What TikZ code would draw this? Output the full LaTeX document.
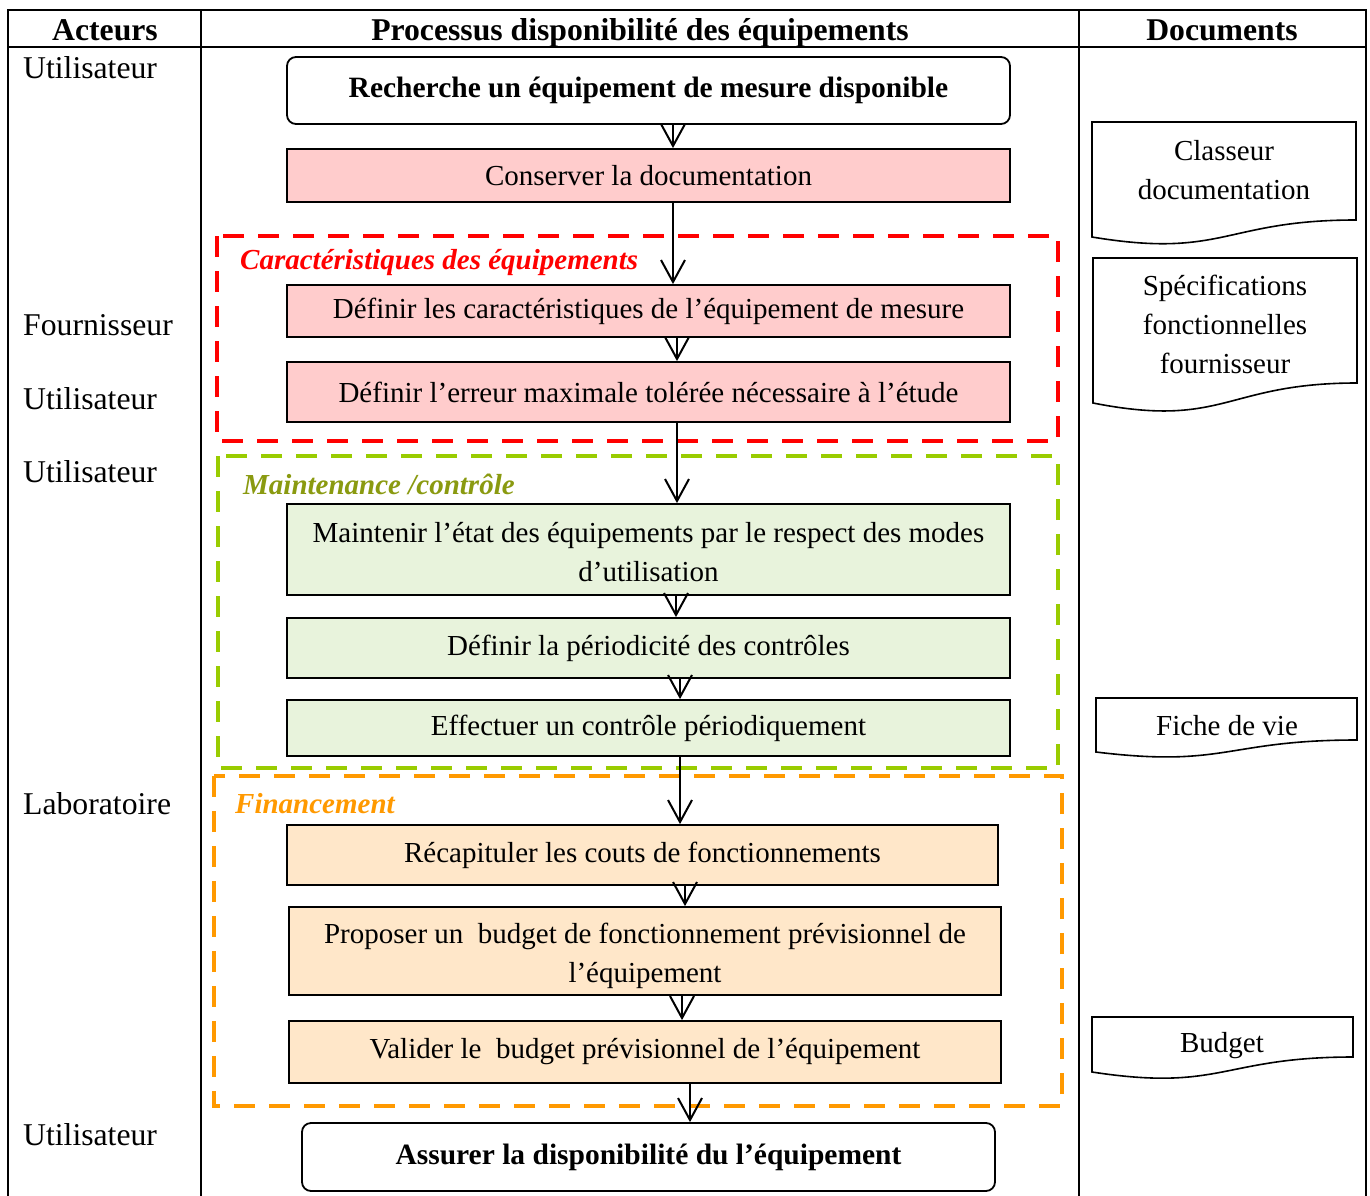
\documentclass[tikz,border=0pt]{standalone}
\usepackage{fontspec}
\setmainfont{Liberation Serif}
\usetikzlibrary{arrows.meta}
\definecolor{pinkfill}{HTML}{FFCCCC}
\definecolor{greenfill}{HTML}{E8F3DC}
\definecolor{orangefill}{HTML}{FFE7C9}
\definecolor{redframe}{HTML}{FF0000}
\definecolor{greenframe}{HTML}{99CC00}
\definecolor{greenlabel}{HTML}{8A9A10}
\definecolor{orangeframe}{HTML}{FF9900}
\tikzset{
  grid/.style={line width=2.4pt, line cap=rect},
  procbox/.style={draw=black, line width=1.8pt, inner sep=0pt, align=center,
                  minimum width=723pt},
  endbox/.style={procbox, rounded corners=9pt, font=\fontsize{29.5}{39}\selectfont\bfseries},
  pinkbox/.style={procbox, fill=pinkfill},
  greenbox/.style={procbox, fill=greenfill},
  orangebox/.style={procbox, fill=orangefill},
  frame/.style={line width=4pt, dash pattern=on 21pt off 14pt},
  grouplabel/.style={anchor=west, inner sep=0pt, font=\fontsize{29}{39}\selectfont\bfseries\itshape},
  actor/.style={anchor=west, inner sep=0pt, font=\fontsize{31.7}{39}\selectfont},
  header/.style={anchor=base, inner sep=0pt, font=\fontsize{31.7}{39}\selectfont\bfseries},
  docshape/.style={draw=black, line width=1.6pt, fill=white},
  doctext/.style={inner sep=0pt, align=center},
  flow/.style={draw=black, line width=2pt, -{Straight Barb[length=22pt,width=24pt]}}
}
\begin{document}
\begin{tikzpicture}[x=1pt, y=-1pt, font=\fontsize{29}{39}\selectfont]
\useasboundingbox (0,0) rectangle (1370,1196);

% table frame
\draw[grid] (8,1196) -- (8,10) -- (1366,10) -- (1366,1196);
\draw[grid] (8,47) -- (1366,47);
\draw[grid] (201,10) -- (201,1196);
\draw[grid] (1079,10) -- (1079,1196);

% column headers
\node[header] (hA) at (105,40.5) {Acteurs};
\node[header] (hP) at (640,40.5) {Processus disponibilité des équipements};
\node[header] (hD) at (1222,40.5) {Documents};

% actors
\node[actor] (a1) at (23,68) {Utilisateur};
\node[actor] (a2) at (23,325) {Fournisseur};
\node[actor] (a3) at (23,399) {Utilisateur};
\node[actor] (a4) at (23,472) {Utilisateur};
\node[actor] (a5) at (23,804) {Laboratoire};
\node[actor] (a6) at (23,1135) {Utilisateur};

% dashed group frames
\draw[frame, draw=redframe] (217,236) rectangle (1058,441);
\draw[frame, draw=greenframe] (218,456) rectangle (1058,768);
\draw[frame, draw=orangeframe] (214,776) rectangle (1062,1106);

\node[grouplabel, text=redframe] (g1) at (240,263) {Caractéristiques des équipements};
\node[grouplabel, text=greenlabel] (g2) at (243,484) {Maintenance /contrôle};
\node[grouplabel, text=orangeframe] (g3) at (235,804) {Financement};

% process steps
\node[endbox, minimum height=67pt] (b1) at (648.5,90.5) {Recherche un équipement de mesure disponible};
\node[pinkbox, minimum height=53pt] (b2) at (648.5,175.5) {Conserver la documentation};
\node[pinkbox, minimum height=52pt] (b3) at (648.5,311) {Définir les caractéristiques de l’équipement de mesure};
\node[pinkbox, minimum height=60pt] (b4) at (648.5,392) {Définir l’erreur maximale tolérée nécessaire à l’étude};
\node[greenbox, minimum height=91pt,
      label={[name=t5, align=center, inner sep=0pt, yshift=-3pt]center:Maintenir l’état des équipements par le respect des modes\\d’utilisation}]
      (b5) at (648.5,549.5) {};
\node[greenbox, minimum height=60pt] (b6) at (648.5,648) {Définir la périodicité des contrôles};
\node[greenbox, minimum height=56pt] (b7) at (648.5,728) {Effectuer un contrôle périodiquement};
\node[orangebox, minimum width=711pt, minimum height=60pt] (b8) at (642.5,855) {Récapituler les couts de fonctionnements};
\node[orangebox, minimum width=712pt, minimum height=88pt,
      label={[name=t9, align=center, inner sep=0pt, yshift=-5pt]center:Proposer un\ \ budget de fonctionnement prévisionnel de\\l’équipement}]
      (b9) at (645,951) {};
\node[orangebox, minimum width=712pt, minimum height=62pt] (b10) at (645,1052) {Valider le\ \ budget prévisionnel de l’équipement};
\node[endbox, minimum width=693pt, minimum height=68pt] (b11) at (648.5,1157) {Assurer la disponibilité du l’équipement};

% flow connectors
\coordinate (xa) at (673,0);
\coordinate (xb) at (677,0);
\coordinate (xc) at (676,0);
\coordinate (xd) at (680,0);
\coordinate (xe) at (685,0);
\coordinate (xf) at (682,0);
\coordinate (xg) at (690,0);
\draw[flow] (b1.south -| xa) -- (b2.north -| xa);
\draw[flow] (b2.south -| xa) -- (b3.north -| xa);
\draw[flow] (b3.south -| xb) -- (b4.north -| xb);
\draw[flow] (b4.south -| xb) -- (b5.north -| xb);
\draw[flow] (b5.south -| xc) -- (b6.north -| xc);
\draw[flow] (b6.south -| xd) -- (b7.north -| xd);
\draw[flow] (b7.south -| xd) -- (b8.north -| xd);
\draw[flow] (b8.south -| xe) -- (b9.north -| xe);
\draw[flow] (b9.south -| xf) -- (b10.north -| xf);
\draw[flow] (b10.south -| xg) -- (b11.north -| xg);

% documents (wavy-bottom document symbols)
\draw[docshape] (1092,122) -- (1356,122) -- (1356,220)
  .. controls (1224,220) and (1224,259) .. (1092,237) -- cycle;
\node[doctext] (d1) at (1224,170.5) {Classeur\\documentation};

\draw[docshape] (1093,258) -- (1357,258) -- (1357,383)
  .. controls (1225,383) and (1225,429) .. (1093,403) -- cycle;
\node[doctext] (d2) at (1225,324.5) {Spécifications\\fonctionnelles\\fournisseur};

\draw[docshape] (1096,698) -- (1357,698) -- (1357,740)
  .. controls (1226,740) and (1226,768) .. (1096,752) -- cycle;
\node[doctext] (d3) at (1227,726) {Fiche de vie};

\draw[docshape] (1092,1017) -- (1353,1017) -- (1353,1057)
  .. controls (1222,1057) and (1222,1092) .. (1092,1072) -- cycle;
\node[doctext] (d4) at (1222,1046) {Budget};
\end{tikzpicture}
\end{document}
